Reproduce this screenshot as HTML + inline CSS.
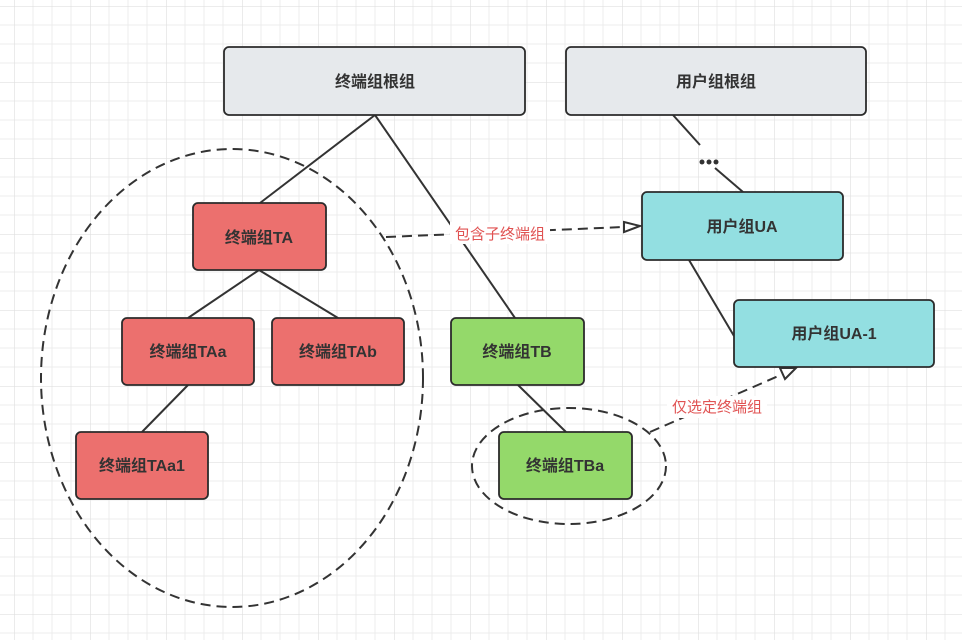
<!DOCTYPE html>
<html><head><meta charset="utf-8"><style>
html,body{margin:0;padding:0;background:#fff;}
svg{display:block;}
text{font-family:"Liberation Sans","Noto Sans CJK SC",sans-serif;}
</style></head><body>
<svg width="962" height="640" viewBox="0 0 962 640" xmlns="http://www.w3.org/2000/svg">
<defs>
<pattern id="g" x="14" y="6" width="76" height="76" patternUnits="userSpaceOnUse">
<path d="M19 0V76M38 0V76M57 0V76M0 19H76M0 38H76M0 57H76" stroke="#ececec" stroke-width="1"/>
<path d="M0 0V76M0 0H76" stroke="#e0e0e0" stroke-width="1.3"/>
</pattern>
</defs>
<rect width="962" height="640" fill="url(#g)"/>
<g stroke="#333" stroke-width="2" fill="none">
<ellipse cx="232" cy="378" rx="191" ry="229" stroke-dasharray="10 6"/>
<ellipse cx="569" cy="466" rx="97" ry="58" stroke-dasharray="10 6"/>
<path d="M375 115L260 203M375 115L515 318M259 270L188 318M259 270L338 318M188 385L142 432M518 385L566 432M673 115L700 145M715 168L743 192M689 260L734 336"/>
<path d="M386 237L624 227" stroke-dasharray="10 6"/>
<path d="M650 432L783 374" stroke-dasharray="10 6"/>
</g>
<path d="M624 222L640 226L624 232Z" fill="#fff" stroke="#333" stroke-width="2"/>
<path d="M780 368L796 368L785 379Z" fill="#fff" stroke="#333" stroke-width="2"/>
<rect x="450" y="222" width="100" height="22" fill="#fff"/>
<text x="500" y="239" font-size="15" fill="#e05252" text-anchor="middle">包含子终端组</text>
<rect x="667" y="396" width="100" height="22" fill="#fff"/>
<text x="717" y="412" font-size="15" fill="#e05252" text-anchor="middle">仅选定终端组</text>
<g fill="#333"><circle cx="702" cy="162" r="2.5"/><circle cx="709" cy="162" r="2.5"/><circle cx="716" cy="162" r="2.5"/></g>
<g stroke="#2b2b2b" stroke-width="1.8">
<rect x="224" y="47" width="301" height="68" rx="5" fill="#e6e9ec"/>
<rect x="566" y="47" width="300" height="68" rx="5" fill="#e6e9ec"/>
<rect x="193" y="203" width="133" height="67" rx="5" fill="#ec706e"/>
<rect x="122" y="318" width="132" height="67" rx="5" fill="#ec706e"/>
<rect x="272" y="318" width="132" height="67" rx="5" fill="#ec706e"/>
<rect x="76" y="432" width="132" height="67" rx="5" fill="#ec706e"/>
<rect x="451" y="318" width="133" height="67" rx="5" fill="#94d96a"/>
<rect x="499" y="432" width="133" height="67" rx="5" fill="#94d96a"/>
<rect x="642" y="192" width="201" height="68" rx="5" fill="#93dfe1"/>
<rect x="734" y="300" width="200" height="67" rx="5" fill="#93dfe1"/>
</g>
<g font-size="16" font-weight="bold" fill="#333" text-anchor="middle">
<text x="375" y="87">终端组根组</text>
<text x="716" y="87">用户组根组</text>
<text x="259" y="243">终端组TA</text>
<text x="188" y="357">终端组TAa</text>
<text x="338" y="357">终端组TAb</text>
<text x="142" y="471">终端组TAa1</text>
<text x="517" y="357">终端组TB</text>
<text x="565" y="471">终端组TBa</text>
<text x="742" y="232">用户组UA</text>
<text x="834" y="339">用户组UA-1</text>
</g>
</svg>
</body></html>
